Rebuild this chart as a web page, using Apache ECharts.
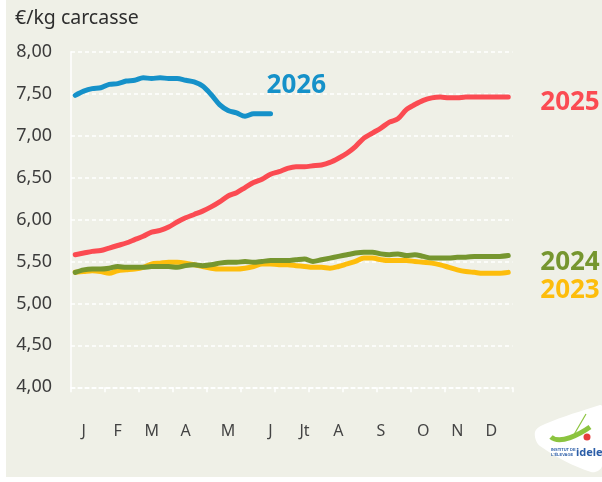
<!DOCTYPE html>
<html>
<head>
<meta charset="utf-8">
<script src="https://cdn.jsdelivr.net/npm/echarts@6/dist/echarts.min.js"></script>
<style>
  html, body { margin: 0; padding: 0; background: #ffffff; }
  #wrap { position: relative; width: 602px; height: 482px; }
  #panel { position: absolute; left: 6px; top: 0; width: 596px; height: 477px; background: #eff0e7; }
  #chart { position: absolute; left: 0; top: 0; width: 602px; height: 482px; }
</style>
</head>
<body>
<div id="wrap">
  <div id="panel"></div>
  <div id="chart"></div>
</div>
<script>
// Weekly carcass price, €/kg, by year
const weeks = [1,2,3,4,5,6,7,8,9,10,11,12,13,14,15,16,17,18,19,20,21,22,23,24,25,26,
  27,28,29,30,31,32,33,34,35,36,37,38,39,40,41,42,43,44,45,46,47,48,49,50,51,52];

const prices2023 = [5.37,5.38,5.39,5.38,5.36,5.39,5.40,5.41,5.43,5.47,5.48,5.49,5.49,5.48,5.46,5.44,
  5.42,5.41,5.41,5.41,5.42,5.44,5.47,5.47,5.46,5.46,5.45,5.44,5.43,5.43,5.42,5.44,5.47,5.50,
  5.54,5.54,5.52,5.51,5.51,5.51,5.50,5.49,5.48,5.46,5.43,5.40,5.38,5.37,5.36,5.36,5.36,5.37];

const prices2024 = [5.37,5.40,5.41,5.41,5.42,5.44,5.43,5.43,5.43,5.44,5.44,5.44,5.43,5.45,5.46,5.45,
  5.46,5.48,5.49,5.49,5.50,5.49,5.50,5.51,5.51,5.51,5.52,5.53,5.50,5.52,5.54,5.56,5.58,5.60,
  5.61,5.61,5.59,5.58,5.59,5.57,5.58,5.56,5.54,5.54,5.54,5.55,5.55,5.56,5.56,5.56,5.56,5.57];

const prices2025 = [5.58,5.60,5.62,5.63,5.66,5.69,5.72,5.76,5.80,5.85,5.87,5.91,5.97,6.02,6.06,6.10,
  6.15,6.21,6.28,6.32,6.38,6.44,6.48,6.54,6.57,6.61,6.63,6.63,6.64,6.65,6.68,6.73,6.79,6.87,
  6.97,7.03,7.09,7.16,7.20,7.31,7.37,7.42,7.45,7.46,7.45,7.45,7.46,7.46,7.46,7.46,7.46,7.46];

const prices2026 = [7.48,7.53,7.56,7.57,7.61,7.62,7.65,7.66,7.69,7.68,7.69,7.68,7.68,7.66,7.64,7.59,
  7.49,7.37,7.30,7.27,7.23,7.26,7.26,7.26];

// Tick marks every four weeks, month initials near the middle of each month
const tickWeeks = [0.5,4.5,8.5,12.5,16.5,20.5,24.5,28.5,32.5,36.5,40.5,44.5,48.5,52.5];
const monthWeeks = [2,6,10,14,19,24,28,32,37,42,46,50];
const monthLabels = ['J','F','M','A','M','J','Jt','A','S','O','N','D'];

const yTicks = { min: 4, max: 8, step: 0.5 };

const pair = (vals) => vals.map((v, i) => [weeks[i], v]);

const chart = echarts.init(document.getElementById('chart'), null, { renderer: 'canvas' });

const fontFamily = '"Noto Sans", "Open Sans", sans-serif';

function yearSeries(name, vals, color, labelOffset, z) {
  return {
    name: name,
    type: 'line',
    data: pair(vals),
    symbol: 'none',
    smooth: 0.3,
    z: z,
    lineStyle: { color: color, width: 5, cap: 'round', join: 'round' },
    endLabel: {
      show: true,
      formatter: '{a}',
      color: color,
      fontFamily: fontFamily,
      fontWeight: 'bold',
      fontSize: 26,
      distance: 5,
      align: 'left',
      verticalAlign: 'middle',
      offset: labelOffset
    },
    emphasis: { disabled: true },
    silent: true
  };
}

chart.setOption({
  animation: false,
  backgroundColor: 'transparent',
  grid: { left: 71, right: 89.5, top: 51.7, bottom: 94.7, containLabel: false },
  xAxis: {
    type: 'value',
    min: 0.5,
    max: 52.5,
    axisLine: { show: true, lineStyle: { color: '#ffffff', width: 1.5, type: [4, 3] } },
    axisTick: {
      show: true,
      customValues: tickWeeks,
      length: 5,
      inside: false,
      lineStyle: { color: '#ffffff', width: 1.5 }
    },
    axisLabel: {
      customValues: monthWeeks,
      formatter: (val) => {
        const i = monthWeeks.indexOf(val);
        return i >= 0 ? monthLabels[i] : '';
      },
      margin: 36,
      color: '#444444',
      fontFamily: fontFamily,
      fontSize: 16
    },
    splitLine: { show: false }
  },
  yAxis: {
    type: 'value',
    min: yTicks.min,
    max: yTicks.max,
    interval: yTicks.step,
    axisLine: { show: true, lineStyle: { color: '#ffffff', width: 1.5 } },
    axisTick: { show: false },
    axisLabel: {
      formatter: (v) => v.toFixed(2).replace('.', ','),
      margin: 19,
      color: '#3c3c3c',
      fontFamily: fontFamily,
      fontSize: 18,
      padding: [0, 0, 3, 0]
    },
    splitLine: { show: true, lineStyle: { color: '#ffffff', width: 1.5, type: [4, 3] } }
  },
  series: [
    yearSeries('2023', prices2023, '#fdbd0c', [27, 18], 2),
    yearSeries('2024', prices2024, '#76962f', [27, 7], 3),
    yearSeries('2025', prices2025, '#fb4b52', [27, 6], 4),
    yearSeries('2026', prices2026, '#1591c9', [-9, -28], 5)
  ],
  graphic: [
    {
      type: 'text',
      left: 15,
      top: 8,
      style: {
        text: '€/kg carcasse',
        fill: '#2e2e2e',
        font: '19.5px ' + fontFamily
      }
    },
    // Institut de l'Élevage badge, bottom right
    {
      type: 'polygon',
      shape: {
        points: [[600, 405], [602, 406], [602, 466], [591, 472], [540, 446], [535, 432], [545, 424]],
        smooth: 0.35
      },
      style: { fill: '#ffffff' }
    },
    {
      type: 'bezierCurve',
      shape: { x1: 551, y1: 437, x2: 590, y2: 427, cpx1: 560, cpy1: 445, cpx2: 580, cpy2: 434 },
      style: { stroke: '#8cc43f', lineWidth: 5, fill: null }
    },
    {
      type: 'line',
      shape: { x1: 572, y1: 438, x2: 586, y2: 414 },
      style: { stroke: '#8cc43f', lineWidth: 1.2 }
    },
    {
      type: 'circle',
      shape: { cx: 587, cy: 437, r: 3.5 },
      style: { fill: '#e63c3c' }
    },
    {
      type: 'text',
      left: 551,
      top: 447,
      style: { text: "INSTITUT DE\nL'ÉLEVAGE", fill: '#2c5ea8', font: 'bold 4px sans-serif', lineHeight: 5 }
    },
    {
      type: 'text',
      left: 576,
      top: 447,
      style: { text: 'idele', fill: '#2c5ea8', font: 'bold 11px ' + fontFamily }
    }
  ]
});
</script>
</body>
</html>
